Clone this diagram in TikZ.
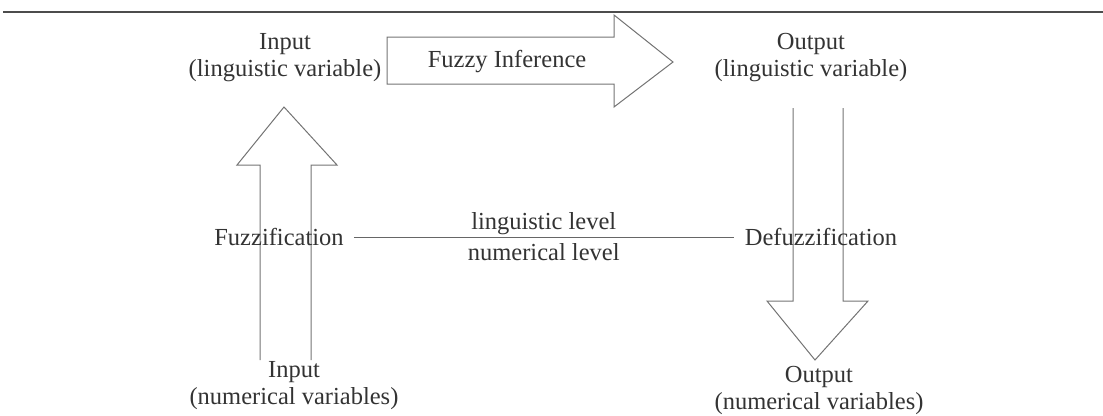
\documentclass[tikz,border=0pt]{standalone}
\usepackage{fontspec}
\setmainfont{Liberation Serif}
\begin{document}
\begin{tikzpicture}[x=1pt,y=-1pt,
  lbl/.style={font=\fontsize{24.5}{27}\selectfont, text=black!80, align=center, inner sep=0pt},
  fatarrow/.style={draw=black!55, line width=1pt, line join=miter},
  rule/.style={draw=black!70, line width=2pt},
  levelline/.style={draw=black!60, line width=1pt}]
\useasboundingbox (0,0) rectangle (1103,415);

% header rule
\draw[rule] (3,12) -- (1103,12);

% block arrows
\draw[fatarrow] (387,37) -- (614,37) -- (614,15) -- (673,62) -- (614,107)
  -- (614,84) -- (387,84) -- cycle;
\draw[fatarrow] (260,360) -- (260,165) -- (237,165) -- (284,107) -- (337,165)
  -- (311,165) -- (311,360);
\draw[fatarrow] (793,108) -- (793,301) -- (767,301) -- (815,360) -- (868,301)
  -- (843,301) -- (843,108);

% texts
\node[lbl] (inL) at (285,58) {Input\\(linguistic variable)};
\node[lbl] (infer) at (507,62) {Fuzzy Inference};
\node[lbl] (outL) at (811,58) {Output\\(linguistic variable)};
\node[lbl] (fuzz) at (279,237) {Fuzzification};
\node[lbl] (defuzz) at (821,237) {Defuzzification};
\node[lbl] (inN) at (294,386) {Input\\(numerical variables)};
\node[lbl] (outN) at (819,390) {Output\\(numerical variables)};

% boundary between the two levels
\draw[levelline] ([xshift=10pt]fuzz.east) -- node[lbl, above=1.5pt] (ling) {linguistic level}
  node[lbl, below=6pt] (num) {numerical level} ([xshift=-11pt]defuzz.west);
\end{tikzpicture}
\end{document}
